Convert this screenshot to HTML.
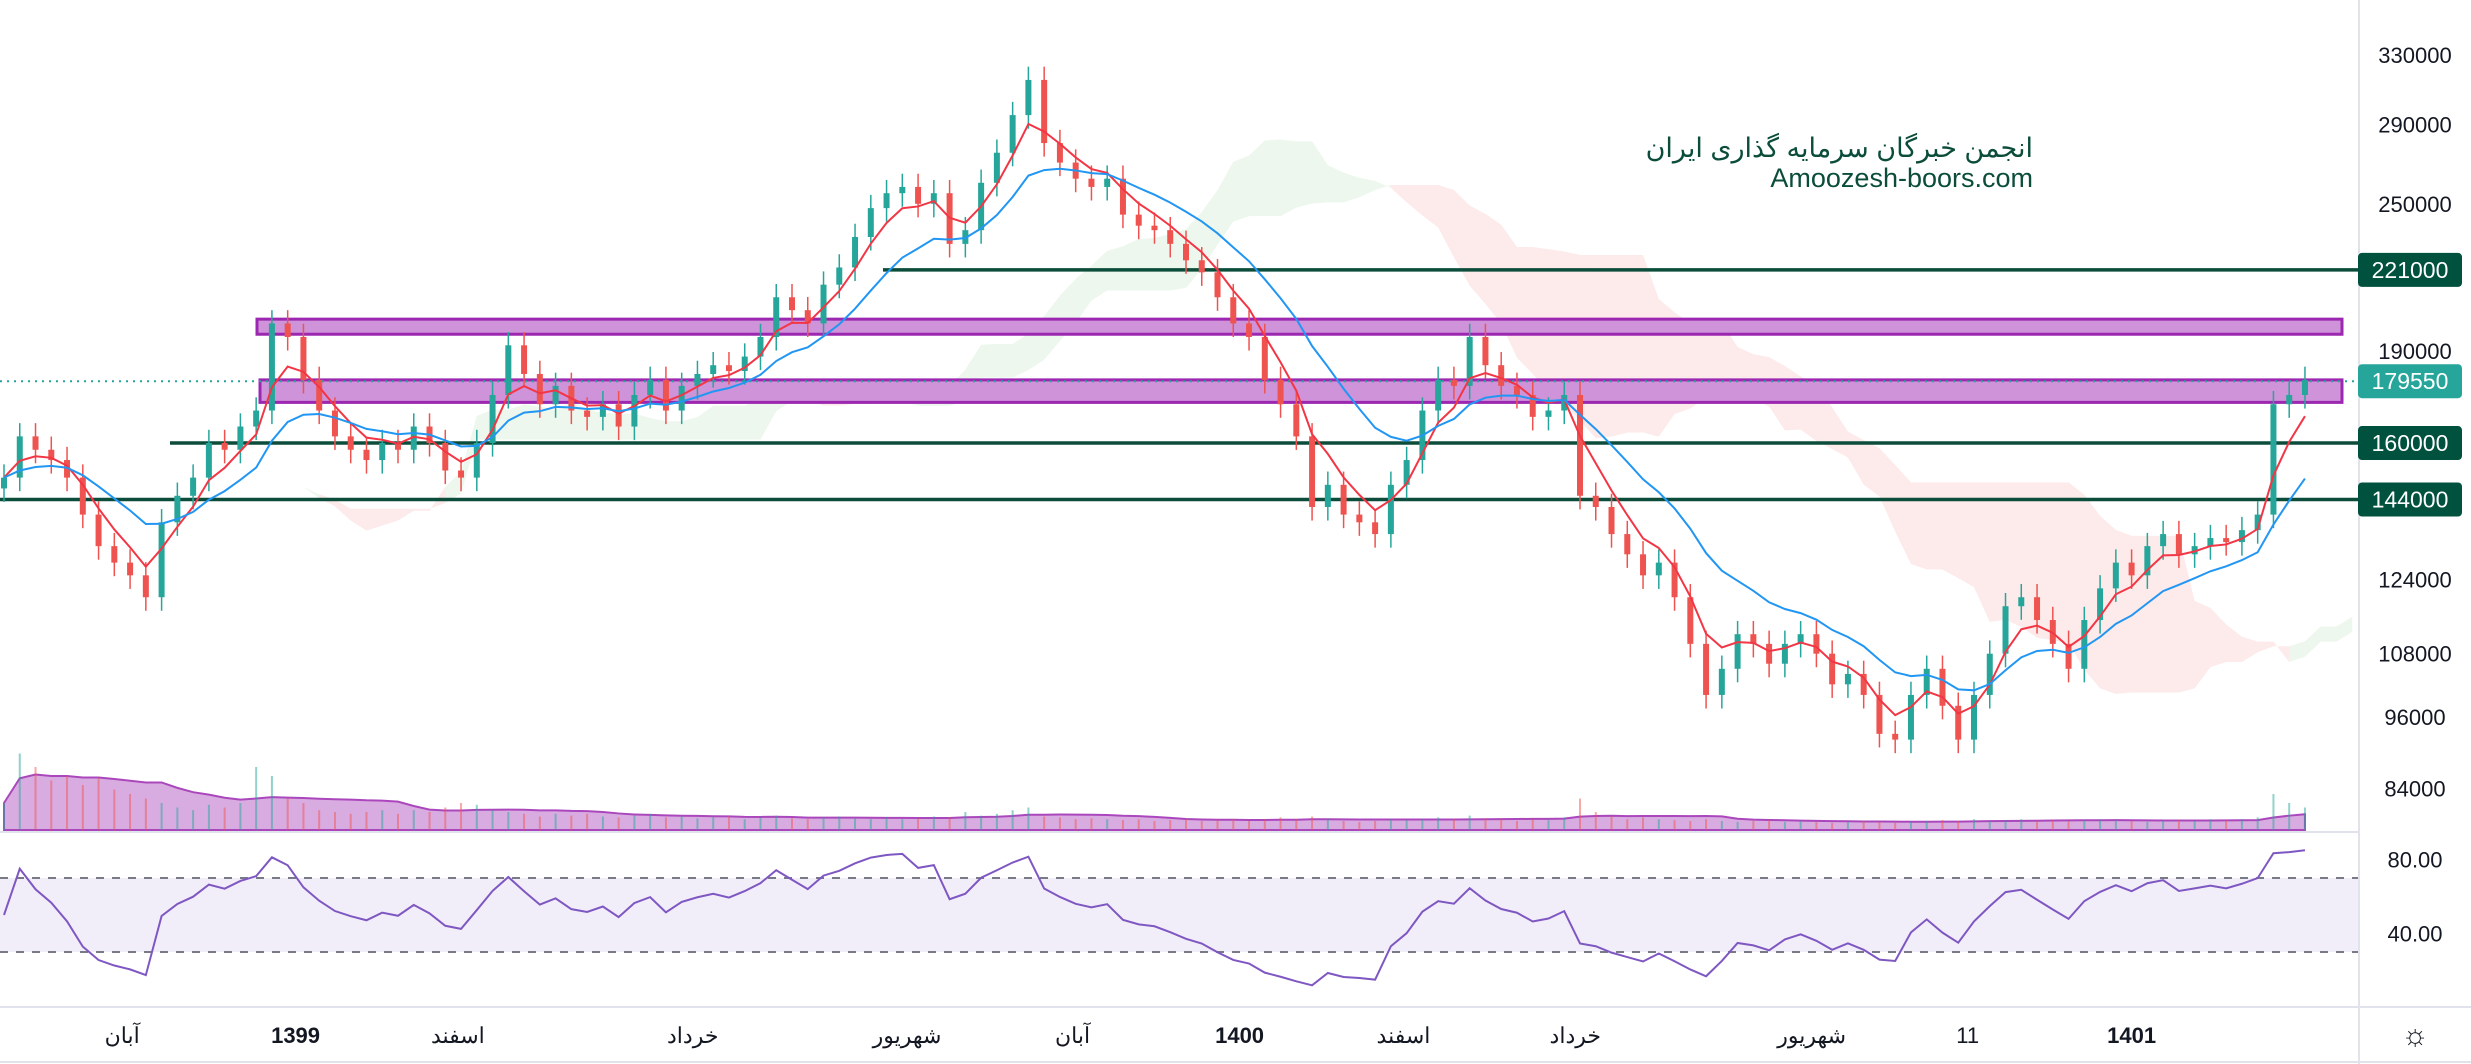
<!DOCTYPE html>
<html><head><meta charset="utf-8">
<style>
html,body{margin:0;padding:0;background:#fff;}
svg{display:block;font-family:"Liberation Sans","Noto Sans CJK SC",sans-serif;}
</style></head>
<body>
<svg id="chart" width="2471" height="1064" viewBox="0 0 2471 1064" xmlns="http://www.w3.org/2000/svg">
  <rect x="0" y="0" width="2471" height="1064" fill="#fff"/>
  <g id="cloud"></g>
  <g id="vol"></g>
  <g id="zones"></g>
  <g id="candles"></g>
  <g id="mas"></g>
  <g id="rsi"></g>
  <g id="axes"></g>
  <text x="2033" y="157" text-anchor="end" font-size="27" fill="#0b4d3a" font-family="'Liberation Sans','Noto Sans CJK SC',sans-serif">انجمن خبرگان سرمایه گذاری ایران</text>
  <text x="2033" y="187" text-anchor="end" font-size="27" fill="#0b4d3a">Amoozesh-boors.com</text>
</svg>
<script>
const closes=[150,162,158,155,150,140,132,128,125,120,138,145,150,160,158,165,170,200,195,180,170,162,158,155,160,158,165,160,152,150,160,175,192,182,172,178,170,168,172,165,175,180,170,178,182,185,183,188,195,210,205,200,215,222,235,248,255,258,250,255,232,238,260,275,295,315,280,270,262,258,262,245,240,238,232,225,220,210,200,195,180,172,162,142,148,140,138,135,148,155,170,180,178,195,185,178,175,168,170,175,145,142,135,130,125,128,120,110,100,105,112,110,106,110,112,108,102,104,100,93,92,100,105,98,92,100,108,118,120,115,110,105,115,122,128,125,132,135,130,132,134,133,136,140,172,175,180];
const volumes=[30,85,70,55,60,50,58,45,40,35,30,25,22,28,25,30,70,60,35,30,22,20,18,20,22,18,22,20,25,30,28,22,20,18,15,18,16,18,15,14,16,18,14,15,13,14,15,12,14,16,13,12,14,15,13,12,14,12,13,15,14,20,16,18,22,25,15,14,12,13,12,11,12,10,11,12,10,11,12,10,12,14,12,15,12,10,9,10,12,11,12,14,12,16,13,12,10,12,11,14,35,20,15,12,14,12,11,10,12,10,9,10,11,9,10,9,8,9,10,9,8,9,10,11,10,12,10,11,12,10,11,10,11,12,11,10,9,10,11,10,12,11,12,14,40,30,25];
const priceTicks=[330000,290000,250000,190000,124000,108000,96000,84000];
const levelLines=[221000,160000,144000];
const levelStarts=[883,170,0];
const zoneLo=[196000,172600];
const zoneHi=[201600,180000];
const lastPrice=179550;
const rsiTicks=[80,40];
const timeLabels=["آبان","1399","اسفند","خرداد","شهریور","آبان","1400","اسفند","خرداد","شهریور","11","1401"];
const timeIdx=[7.5,18.5,28.8,43.7,57.3,67.8,78.4,88.8,99.7,114.7,124.6,135];
const timeBold=[0,1,0,0,0,0,1,0,0,0,0,1];

const NS="http://www.w3.org/2000/svg";
function el(tag,attrs,parent){const e=document.createElementNS(NS,tag);for(const k in attrs)e.setAttribute(k,attrs[k]);parent.appendChild(e);return e;}
const X0=4,DX=15.76;
const xAt=i=>X0+i*DX;
const LNTOP=Math.log(330000);
const yP=p=>55+(LNTOP-Math.log(p*(p<1000?1000:1)))*536;
const yR=v=>878-(v-70)*1.85;
const UP="#26a69a",DN="#ef5350";
const n=closes.length;
const opens=closes.map((c,i)=>i?closes[i-1]:c*0.98);
const highs=closes.map((c,i)=>Math.max(c,opens[i])*1.025);
const lows=closes.map((c,i)=>Math.min(c,opens[i])*0.975);

const cloud=document.getElementById('cloud');
function hl(i,p){let h=-1e9,l=1e9;for(let k=Math.max(0,i-p+1);k<=i;k++){h=Math.max(h,highs[k]);l=Math.min(l,lows[k]);}return (h+l)/2;}
const SH=13;const spA=[],spB=[];
for(let i=0;i<n;i++){spA.push((hl(i,5)+hl(i,13))/2);spB.push(hl(i,26));}
for(let i=0;i<n-1;i++){
  const xa=xAt(i+SH),xb=xAt(i+1+SH);
  if(xa>2340)break;
  const g=spA[i]>=spB[i];
  const poly=el('polygon',{points:`${xa},${yP(spA[i])} ${xb},${yP(spA[i+1])} ${xb},${yP(spB[i+1])} ${xa},${yP(spB[i])}`,fill:g?'rgba(76,175,80,0.1)':'rgba(239,83,80,0.12)'},cloud);
  
  
}

const vol=document.getElementById('vol');
const VB=830,VS=0.9;
let vma=[];
for(let i=0;i<n;i++){let s=0,c=0;for(let k=Math.max(0,i-9);k<=i;k++){s+=volumes[k];c++;}vma.push(s/c);}
let ap=`M${xAt(0)},${VB}`;vma.forEach((v,i)=>ap+=` L${xAt(i)},${VB-v*VS}`);ap+=` L${xAt(n-1)},${VB} Z`;
const va=el('path',{d:ap,fill:'rgba(171,71,188,0.45)',stroke:'#ab47bc','stroke-width':2},vol);


volumes.forEach((v,i)=>{
  const r=el('rect',{x:xAt(i)-1,y:VB-v*VS,width:2,height:v*VS,fill:closes[i]>=opens[i]?'rgba(38,166,154,0.5)':'rgba(239,83,80,0.5)'},vol);
  
  
});

const zones=document.getElementById('zones');
const zs=[257,260];
zoneLo.forEach((lo,k)=>{
  const r=el('rect',{x:zs[k],y:yP(zoneHi[k]),width:2342-zs[k],height:yP(lo)-yP(zoneHi[k]),fill:'#ce93d8',stroke:'#9c27b0','stroke-width':3},zones);
  
  
});
const lp=el('line',{x1:0,x2:2358,y1:yP(lastPrice),y2:yP(lastPrice),stroke:'#26a69a','stroke-width':2,'stroke-dasharray':'2 5'},zones);


levelLines.forEach((p,k)=>{
  const l=el('line',{x1:levelStarts[k],x2:2358,y1:yP(p),y2:yP(p),stroke:'#0b4d3a','stroke-width':3.5},zones);
  
  
});

const cg=document.getElementById('candles');
closes.forEach((c,i)=>{
  const o=opens[i],col=c>=o?UP:DN,x=xAt(i);
  const w=el('line',{x1:x,x2:x,y1:yP(highs[i]),y2:yP(lows[i]),stroke:col,'stroke-width':1.5},cg);
  
  
  const yt=yP(Math.max(o,c)),yb=yP(Math.min(o,c));
  const b=el('rect',{x:x-3,y:yt,width:6,height:Math.max(1.5,yb-yt),fill:col},cg);
  
  
});

const mg=document.getElementById('mas');
function ema(p){const k=2/(p+1);let out=[],e=closes[0];closes.forEach(c=>{e=c*k+e*(1-k);out.push(e);});return out;}
[[ema(4),'#f23645','ma-fast'],[ema(11),'#2196f3','ma-slow']].forEach(([arr,col,name])=>{
  const p=el('path',{d:arr.map((v,i)=>(i?'L':'M')+xAt(i)+','+yP(v)).join(' '),fill:'none',stroke:col,'stroke-width':2},mg);
  
  
});

const rg=document.getElementById('rsi');
const band=el('rect',{x:0,y:yR(70),width:2358,height:yR(30)-yR(70),fill:'rgba(126,87,194,0.1)'},rg);


[70,30].forEach(v=>{
  const l=el('line',{x1:0,x2:2358,y1:yR(v),y2:yR(v),stroke:'#787b86','stroke-width':2,'stroke-dasharray':'8 8'},rg);
  
  
});
const P=9;let ag=0.5,al=0.5,rsi=[];
for(let i=0;i<n;i++){
  if(i===0){rsi.push(50);continue;}
  const d=(closes[i]-closes[i-1])/closes[i-1]*100;
  ag=(ag*(P-1)+Math.max(d,0))/P;al=(al*(P-1)+Math.max(-d,0))/P;
  rsi.push(al===0?100:100-100/(1+ag/al));
}
const rl=el('path',{d:rsi.map((v,i)=>(i?'L':'M')+xAt(i)+','+yR(Math.max(12,Math.min(88,v)))).join(' '),fill:'none',stroke:'#7e57c2','stroke-width':2},rg);



const ax=document.getElementById('axes');
[['line',{x1:2359,x2:2359,y1:0,y2:1064}],['line',{x1:0,x2:2359,y1:832,y2:832}],['line',{x1:0,x2:2471,y1:1007,y2:1007}],['line',{x1:0,x2:2471,y1:1062,y2:1062}]].forEach(([t,a],k)=>{
  a.stroke='#e0e3eb';a['stroke-width']=2;
  const l=el(t,a,ax);
  
  
});
priceTicks.forEach(p=>{
  const t=el('text',{x:2415,y:yP(p)+8,'text-anchor':'middle','font-size':22,fill:'#131722'},ax);
  t.textContent=p;
  
  
});
rsiTicks.forEach(v=>{
  const t=el('text',{x:2415,y:yR(v)+8,'text-anchor':'middle','font-size':22,fill:'#131722'},ax);
  t.textContent=v.toFixed(2);
  
  
});
const boxes=[[221000,'#01513f'],[lastPrice,'#26a69a'],[160000,'#01513f'],[144000,'#01513f']];
boxes.forEach(([p,c])=>{
  const y=yP(p);
  const r=el('rect',{x:2358,y:y-17,width:104,height:34,rx:4,fill:c},ax);
  
  
  const t=el('text',{x:2410,y:y+8,'text-anchor':'middle','font-size':23,fill:'#fff'},ax);
  t.textContent=p;
  
  
});
timeLabels.forEach((s,k)=>{
  const t=el('text',{x:xAt(timeIdx[k]),y:1043,'text-anchor':'middle','font-size':22,fill:'#131722','font-weight':timeBold[k]?'bold':'normal'},ax);
  t.textContent=s;
  
  
});
const gear=el('text',{x:2415,y:1045,'text-anchor':'middle','font-size':30,fill:'#131722'},ax);
gear.textContent='☼';


</script>
</body></html>
